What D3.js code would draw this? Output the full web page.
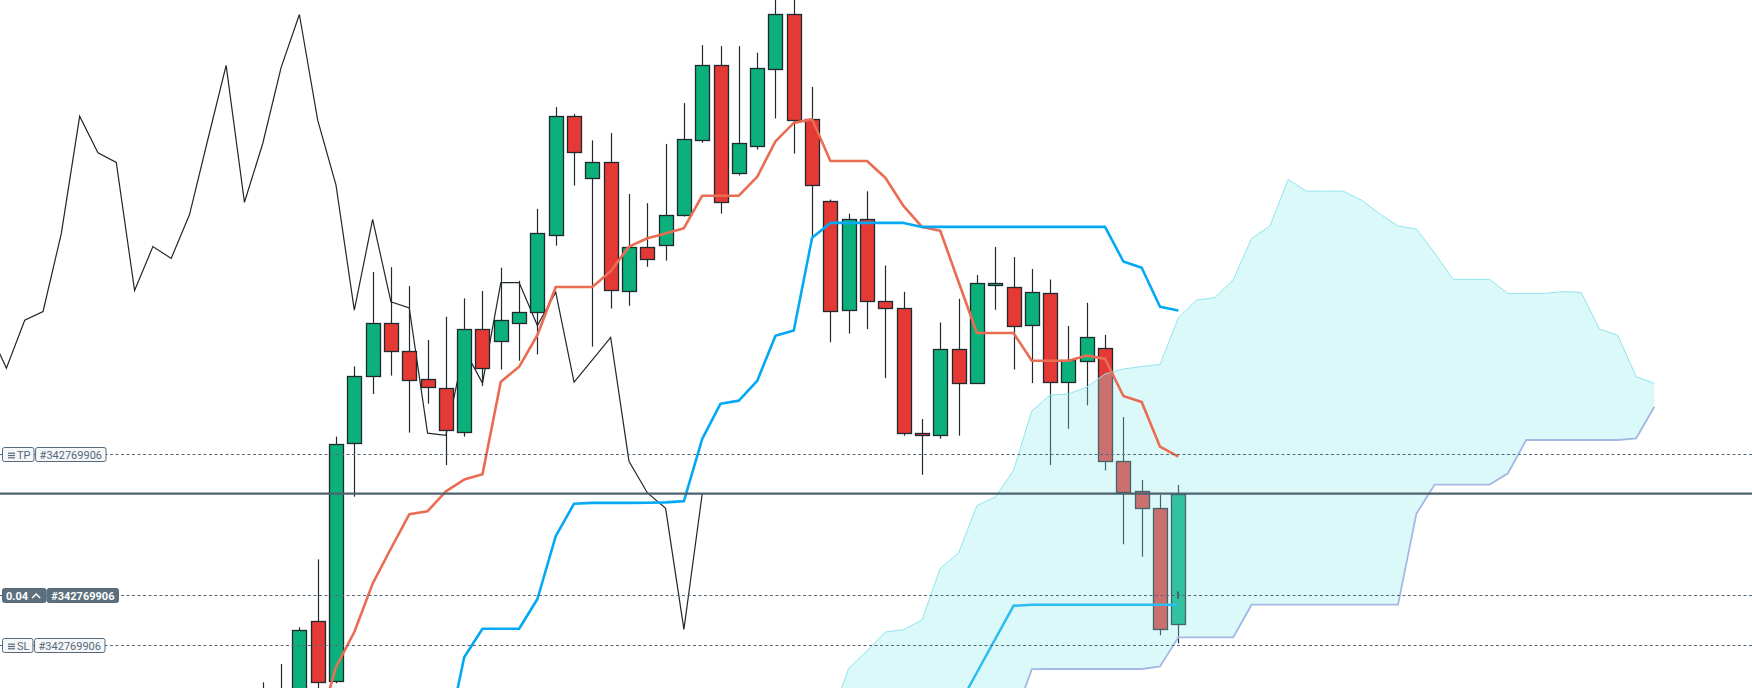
<!DOCTYPE html>
<html>
<head>
<meta charset="utf-8">
<script src="https://cdn.jsdelivr.net/npm/d3@7"></script>
<style>
  html, body { margin: 0; padding: 0; background: #fff; overflow: hidden; }
  svg { display: block; }
  text { font-family: Roboto, "Liberation Sans", Arial, sans-serif; }
</style>
</head>
<body>
<div id="chart"></div>
<script>
// candles, oldest first
const opens = [2330.00, 2329.20, 2330.00, 2337.87, 2331.90, 2355.60, 2362.31, 2367.66, 2364.94, 2362.05,
  2361.17, 2356.87, 2367.13, 2365.90, 2367.79, 2368.80, 2376.44, 2388.37, 2382.14, 2383.76,
  2370.95, 2375.34, 2375.56, 2378.46, 2385.96, 2393.46, 2382.67, 2385.48, 2393.07, 2398.55,
  2388.07, 2379.95, 2368.98, 2378.06, 2369.86, 2369.24, 2356.65, 2356.47, 2365.07, 2361.69,
  2371.57, 2371.35, 2367.44, 2370.65, 2361.78, 2363.89, 2365.16, 2353.87, 2350.87, 2349.17,
  2337.60];
const highs = [2331.77, 2333.60, 2337.27, 2344.06, 2356.34, 2363.36, 2372.80, 2373.28, 2371.39, 2366.00,
  2368.32, 2370.16, 2370.91, 2373.23, 2371.92, 2379.11, 2389.29, 2388.59, 2385.96, 2386.70,
  2380.60, 2379.68, 2385.61, 2389.69, 2395.48, 2395.39, 2395.39, 2394.73, 2400.80, 2400.80,
  2391.31, 2380.04, 2378.63, 2380.87, 2373.45, 2370.82, 2358.10, 2367.75, 2370.12, 2372.49,
  2375.30, 2374.29, 2373.10, 2372.05, 2367.40, 2369.72, 2366.52, 2358.30, 2352.00, 2350.50,
  2351.50];
const lows = [2328.50, 2328.40, 2329.50, 2330.80, 2331.68, 2350.33, 2360.60, 2362.44, 2356.74, 2359.63,
  2353.49, 2356.34, 2361.39, 2363.05, 2363.93, 2364.55, 2375.43, 2381.44, 2365.34, 2369.15,
  2369.42, 2373.32, 2373.94, 2378.35, 2385.74, 2378.63, 2382.45, 2385.04, 2388.15, 2384.64,
  2376.30, 2365.77, 2366.65, 2367.09, 2362.18, 2356.43, 2352.52, 2356.12, 2356.43, 2361.65,
  2369.02, 2363.05, 2361.69, 2353.49, 2357.13, 2359.46, 2352.96, 2345.57, 2344.33, 2336.47,
  2335.67];
const closes = [2329.20, 2330.00, 2336.96, 2331.77, 2355.64, 2362.35, 2367.66, 2364.90, 2362.00, 2361.21,
  2357.00, 2367.13, 2363.19, 2367.97, 2368.85, 2376.66, 2388.37, 2384.73, 2383.76, 2370.95,
  2375.34, 2374.16, 2378.54, 2386.05, 2393.46, 2379.77, 2385.65, 2393.24, 2398.55, 2387.98,
  2381.48, 2368.98, 2378.06, 2369.81, 2369.20, 2356.69, 2356.47, 2365.07, 2361.69, 2371.74,
  2371.74, 2367.44, 2370.78, 2361.78, 2364.02, 2366.26, 2353.88, 2350.73, 2349.17, 2337.07,
  2350.63];

// ichimoku lines, aligned with the candles
const tenkan = [null, null, null, 2326.90, 2333.30, 2336.80, 2341.64, 2345.15, 2348.57, 2348.88,
  2350.86, 2352.04, 2352.57, 2361.83, 2363.32, 2366.50, 2371.30, 2371.30, 2371.30, 2372.88,
  2375.34, 2376.17, 2376.66, 2377.18, 2380.43, 2380.43, 2380.43, 2382.32, 2385.87, 2387.71,
  2388.07, 2383.90, 2383.90, 2383.90, 2382.23, 2379.38, 2377.31, 2376.92, 2371.80, 2366.70,
  2366.70, 2366.70, 2363.93, 2363.93, 2363.93, 2364.45, 2364.11, 2360.40, 2359.80, 2355.33,
  2354.33];
const kijun = [null, null, null, null, null, null, null, null, null, null,
  2325.50, 2334.27, 2337.12, 2337.12, 2337.12, 2340.10, 2346.38, 2349.63, 2349.71, 2349.71,
  2349.71, 2349.73, 2349.76, 2349.89, 2356.12, 2359.63, 2359.94, 2361.91, 2366.43, 2366.96,
  2376.22, 2377.71, 2377.71, 2377.71, 2377.71, 2377.71, 2377.31, 2377.31, 2377.31, 2377.31,
  2377.31, 2377.31, 2377.31, 2377.31, 2377.31, 2377.31, 2377.31, 2373.85, 2373.23, 2369.32,
  2368.94];
const baseLine2 = [null, null, null, null, null, null, null, null, null, null,
  null, null, null, null, null, null, null, null, null, null,
  null, null, null, null, null, null, null, null, null, null,
  null, null, null, null, null, null, null, null, 2329.40, 2332.75,
  2336.08, 2339.42, 2339.53, 2339.53, 2339.53, 2339.53, 2339.53, 2339.53, 2339.53, 2339.53,
  2339.53];

// leading spans, ending 26 bars after the last candle
const spanA = [2328.00, 2333.17, 2334.90, 2336.80, 2337.03, 2338.00, 2343.18, 2344.70, 2349.45, 2350.30,
  2352.96, 2358.90, 2360.50, 2360.60, 2361.30, 2362.60, 2363.10, 2363.35, 2363.55, 2368.20,
  2370.00, 2370.24, 2372.03, 2376.15, 2377.40, 2382.05, 2380.88, 2380.88, 2380.88, 2380.00,
  2378.62, 2377.40, 2377.10, 2374.70, 2372.06, 2372.06, 2372.06, 2370.66, 2370.66, 2370.66,
  2370.83, 2370.76, 2367.10, 2366.47, 2362.35, 2361.66];
const spanB = [2325.50, 2325.50, 2325.50, 2325.50, 2325.50, 2325.50, 2325.50, 2325.50, 2325.50, 2325.50,
  2328.00, 2333.09, 2333.10, 2333.10, 2333.10, 2333.10, 2333.10, 2333.10, 2333.35, 2336.27,
  2336.27, 2336.27, 2336.27, 2339.53, 2339.53, 2339.53, 2339.53, 2339.53, 2339.53, 2339.53,
  2339.53, 2339.53, 2348.62, 2351.54, 2351.54, 2351.54, 2351.54, 2352.67, 2356.00, 2356.00,
  2356.00, 2356.00, 2356.00, 2356.00, 2356.17, 2359.33];
const shift = 26;

// order lines
const orderId = "#342769906";
const levels = [
  { kind: "tp", label: "TP", price: 2354.56 },
  { kind: "entry", label: "0.04", price: 2340.50 },
  { kind: "sl", label: "SL", price: 2335.47 }
];

const w = 1752;
const h = 688;

const svg = d3.select("#chart")
  .append("svg")
  .attr("width", w)
  .attr("height", h);

const x = d3.scaleLinear().domain([-14.35, 81.33]).range([0, w]);
const y = d3.scaleLinear().domain([2331.2, 2400]).range([h, 0]);

const last = closes.length - 1;
const cloudStart = last + shift - (spanA.length - 1);
const px = v => Math.round(v) + 0.5;
const dark = "#1f292e";

// lagging span
svg.append("path")
  .datum(closes)
  .attr("fill", "none")
  .attr("stroke", "#1f272b")
  .attr("stroke-width", 1.2)
  .attr("d", d3.line().x((d, i) => x(i - shift)).y(d => y(d)));

// candles
const candles = closes.map((c, i) => ({ i, o: opens[i], hi: highs[i], lo: lows[i], c }));
const cg = svg.append("g");

cg.selectAll("line.wick")
  .data(candles)
  .enter()
  .append("line")
  .attr("class", "wick")
  .attr("x1", d => px(x(d.i)))
  .attr("x2", d => px(x(d.i)))
  .attr("y1", d => y(d.hi))
  .attr("y2", d => y(d.lo))
  .attr("stroke", dark)
  .attr("stroke-width", 1.2);

cg.selectAll("rect.body")
  .data(candles)
  .enter()
  .append("rect")
  .attr("class", "body")
  .attr("x", d => px(x(d.i) - 7))
  .attr("width", 14)
  .attr("y", d => Math.round(y(Math.max(d.o, d.c))) + 0.5)
  .attr("height", d => Math.max(1, Math.round(y(Math.min(d.o, d.c)) - y(Math.max(d.o, d.c)))))
  .attr("fill", d => d.c >= d.o ? "#0bb07b" : "#e53935")
  .attr("stroke", dark)
  .attr("stroke-width", 1.3);

// entry marker on the last candle
const entry = levels.find(l => l.kind === "entry");
cg.append("rect")
  .attr("x", Math.round(x(last)) - 1)
  .attr("y", y(entry.price) - 3.5)
  .attr("width", 2)
  .attr("height", 7)
  .attr("fill", dark);

// second base line (under the cloud)
svg.append("path")
  .datum(baseLine2)
  .attr("fill", "none")
  .attr("stroke", "#03a9f4")
  .attr("stroke-width", 2.5)
  .attr("d", d3.line().defined(d => d !== null).x((d, i) => x(i)).y(d => y(d)));

// cloud
svg.append("path")
  .datum(spanA)
  .attr("fill", "#8eebef")
  .attr("fill-opacity", 0.31)
  .attr("d", d3.area()
    .x((d, i) => x(i + cloudStart))
    .y0((d, i) => y(spanB[i]))
    .y1(d => y(d)));

svg.append("path")
  .datum(spanA)
  .attr("fill", "none")
  .attr("stroke", "#8fe5ef")
  .attr("stroke-width", 1)
  .attr("d", d3.line().x((d, i) => x(i + cloudStart)).y(d => y(d)));

svg.append("path")
  .datum(spanB)
  .attr("fill", "none")
  .attr("stroke", "#a3b8e3")
  .attr("stroke-width", 1.8)
  .attr("d", d3.line().x((d, i) => x(i + cloudStart)).y(d => y(d)));

// conversion and base lines
svg.append("path")
  .datum(tenkan)
  .attr("fill", "none")
  .attr("stroke", "#ea6c52")
  .attr("stroke-width", 2.6)
  .attr("stroke-linejoin", "round")
  .attr("d", d3.line().defined(d => d !== null).x((d, i) => x(i)).y(d => y(d)));

svg.append("path")
  .datum(kijun)
  .attr("fill", "none")
  .attr("stroke", "#03a9f4")
  .attr("stroke-width", 2.6)
  .attr("stroke-linejoin", "round")
  .attr("d", d3.line().defined(d => d !== null).x((d, i) => x(i)).y(d => y(d)));

// order lines
const lineColor = "#56697a";

svg.selectAll("line.level")
  .data(levels)
  .enter()
  .append("line")
  .attr("class", "level")
  .attr("x1", 0)
  .attr("x2", w)
  .attr("y1", d => px(y(d.price)))
  .attr("y2", d => px(y(d.price)))
  .attr("stroke", lineColor)
  .attr("stroke-width", 1.1)
  .attr("stroke-dasharray", "3,2.5");

// current price line
svg.append("line")
  .attr("x1", 0)
  .attr("x2", w)
  .attr("y1", y(closes[last]))
  .attr("y2", y(closes[last]))
  .attr("stroke", "#4f6270")
  .attr("stroke-width", 2.2);

// order tags
levels.forEach(lv => {
  const cy = Math.round(y(lv.price));
  const g = svg.append("g");
  const filled = lv.kind === "entry";
  const bg = filled ? "#5b707c" : "#f5f7f8";
  const fg = filled ? "#ffffff" : "#56697a";
  const weight = filled ? "bold" : "normal";
  const top = cy - 7;

  const box1 = g.append("rect")
    .attr("y", top + 0.5)
    .attr("height", 14)
    .attr("rx", 2)
    .attr("fill", bg)
    .attr("stroke", lineColor)
    .attr("stroke-width", 1);

  let tx;
  if (filled) {
    tx = 6;
  } else {
    // menu icon
    [-2.3, 0, 2.3].forEach(dy => {
      g.append("line")
        .attr("x1", 8)
        .attr("x2", 15)
        .attr("y1", cy + dy + 1.5)
        .attr("y2", cy + dy + 1.5)
        .attr("stroke", fg)
        .attr("stroke-width", 1.2);
    });
    tx = 17;
  }

  const t1 = g.append("text")
    .text(lv.label)
    .attr("x", tx)
    .attr("y", cy + 4.5)
    .attr("fill", fg)
    .attr("font-size", "11px")
    .attr("font-weight", weight);
  let end1 = tx + t1.node().getComputedTextLength();

  if (filled) {
    g.append("path")
      .attr("d", `M${end1 + 4},${cy + 3} L${end1 + 8},${cy - 1} L${end1 + 12},${cy + 3}`)
      .attr("fill", "none")
      .attr("stroke", fg)
      .attr("stroke-width", 1.5);
    end1 += 18;
  } else {
    end1 += 3.5;
  }
  box1.attr("x", 2.5).attr("width", end1 - 2.5);

  const x2 = end1 + (filled ? 1 : 1.6);
  const box2 = g.append("rect")
    .attr("x", x2)
    .attr("y", top + 0.5)
    .attr("height", 14)
    .attr("rx", 2)
    .attr("fill", bg)
    .attr("stroke", lineColor)
    .attr("stroke-width", 1);
  const t2 = g.append("text")
    .text(orderId)
    .attr("x", x2 + 4)
    .attr("y", cy + 4.5)
    .attr("fill", fg)
    .attr("font-size", "11px")
    .attr("font-weight", weight);
  box2.attr("width", t2.node().getComputedTextLength() + 8);
});
</script>
</body>
</html>
